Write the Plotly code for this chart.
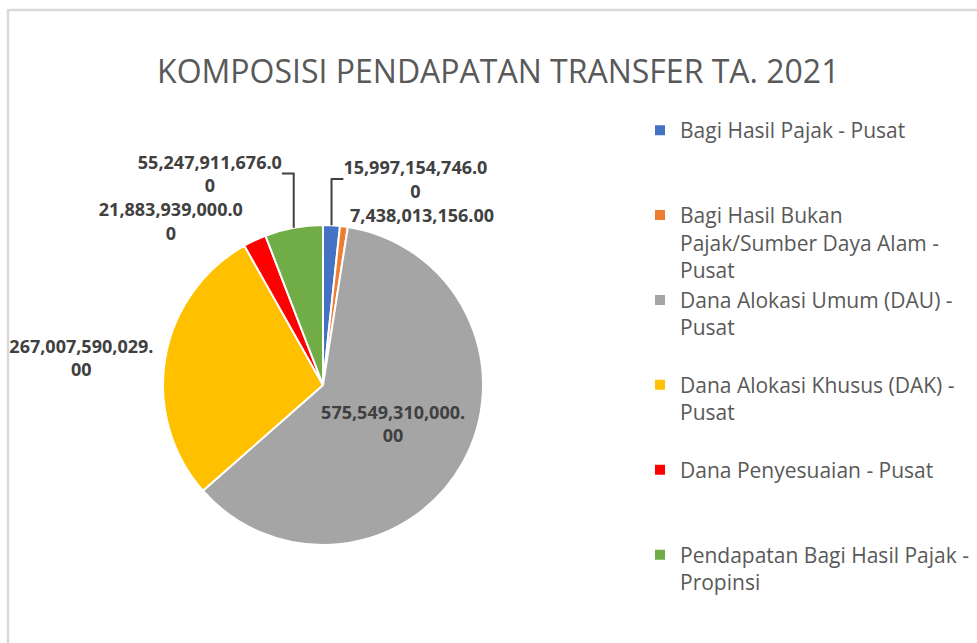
import plotly.graph_objects as go

# ---- data ----
categories = [
    "Bagi Hasil Pajak - Pusat",
    "Bagi Hasil Bukan<br>Pajak/Sumber Daya Alam -<br>Pusat",
    "Dana Alokasi Umum (DAU) -<br>Pusat",
    "Dana Alokasi Khusus (DAK) -<br>Pusat",
    "Dana Penyesuaian - Pusat",
    "Pendapatan Bagi Hasil Pajak -<br>Propinsi",
]
values = [
    15997154746.00,
    7438013156.00,
    575549310000.00,
    267007590029.00,
    21883939000.00,
    55247911676.00,
]
colors = ["#4472C4", "#ED7D31", "#A5A5A5", "#FFC000", "#FF0000", "#70AD47"]
title_text = "KOMPOSISI PENDAPATAN TRANSFER TA. 2021"


def wrap_label(v, n=16):
    s = f"{v:,.2f}"
    return "<br>".join(s[i:i + n] for i in range(0, len(s), n))


def pad_legend(name, lines=3):
    k = name.count("<br>") + 1
    return name + "<br>&nbsp;" * max(0, lines - k)


labels_text = [wrap_label(v) for v in values]
legend_names = [pad_legend(c) for c in categories[:-1]] + [categories[-1]]
positions = ["outside", "outside", "inside", "outside", "outside", "outside"]

W, H = 977, 643
cx, cy, r = 323, 385, 160

fig = go.Figure(go.Pie(
    labels=legend_names,
    values=values,
    text=labels_text,
    textinfo="text",
    textposition=positions,
    sort=False,
    direction="clockwise",
    rotation=0,
    marker=dict(colors=colors, line=dict(color="white", width=2)),
    textfont=dict(family="Open Sans", size=18, color="#404040", weight="bold"),
    insidetextfont=dict(family="Open Sans", size=18, color="#404040", weight="bold"),
    outsidetextfont=dict(family="Open Sans", size=18, color="#404040", weight="bold"),
    insidetextorientation="horizontal",
    domain=dict(x=[(cx - r) / W, (cx + r) / W], y=[1 - (cy + r) / H, 1 - (cy - r) / H]),
    hovertemplate="%{label}: %{value:,.2f}<extra></extra>",
))

fig.update_layout(
    width=W, height=H,
    margin=dict(l=0, r=0, t=0, b=0),
    paper_bgcolor="white",
    plot_bgcolor="white",
    font=dict(family="Open Sans", color="#595959"),
    title=dict(text=title_text, x=0.51, xanchor="center", y=1 - 72 / H, yanchor="middle",
               font=dict(family="Open Sans", size=32, color="#595959")),
    legend=dict(x=640 / W, xanchor="left", y=1 - 110 / H, yanchor="top",
                valign="top", font=dict(family="Open Sans", size=21, color="#595959"),
                bgcolor="rgba(0,0,0,0)", itemclick=False),
    showlegend=True,
    shapes=[dict(type="rect", xref="paper", yref="paper",
                 x0=8 / W, x1=1.02, y0=-0.02, y1=1 - 10 / H,
                 line=dict(color="#D9D9D9", width=2.5), layer="below")],
)

fig.write_html("out.html", config={"displayModeBar": False},
               post_script="document.body.style.margin='0';")
